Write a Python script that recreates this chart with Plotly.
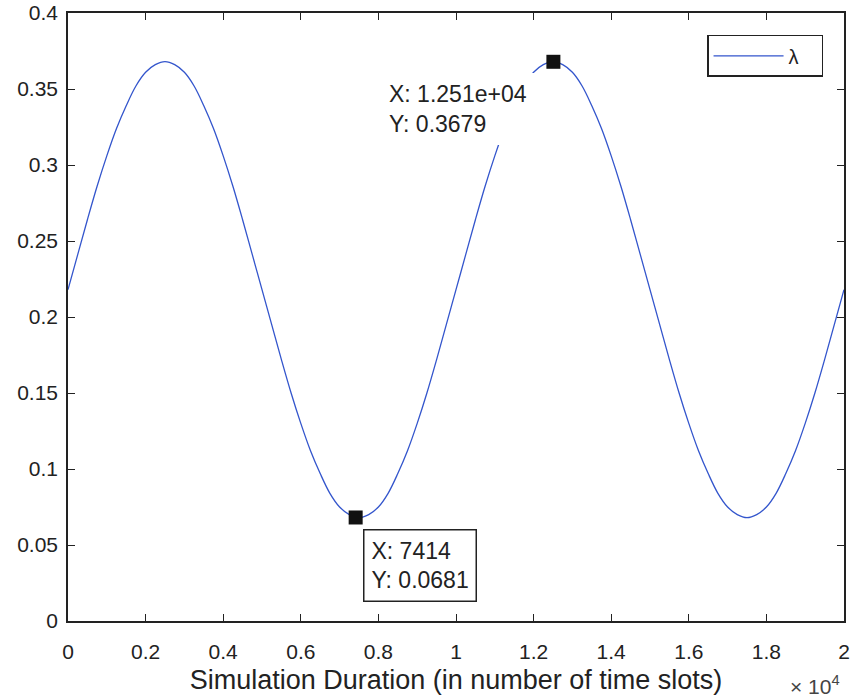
import plotly.graph_objects as go

# Values every 250 time slots
t_slots = [i * 250 for i in range(81)]
lam = [0.218, 0.241, 0.264, 0.286, 0.306, 0.324, 0.339, 0.352, 0.361, 0.366,
       0.368, 0.366, 0.361, 0.352, 0.339, 0.324, 0.306, 0.286, 0.264, 0.241,
       0.218, 0.195, 0.172, 0.150, 0.130, 0.112, 0.097, 0.084, 0.075, 0.070,
       0.068, 0.070, 0.075, 0.084, 0.097, 0.112, 0.130, 0.150, 0.172, 0.195,
       0.218, 0.241, 0.264, 0.286, 0.306, 0.324, 0.339, 0.352, 0.361, 0.366,
       0.368, 0.366, 0.361, 0.352, 0.339, 0.324, 0.306, 0.286, 0.264, 0.241,
       0.218, 0.195, 0.172, 0.150, 0.130, 0.112, 0.097, 0.084, 0.075, 0.070,
       0.068, 0.070, 0.075, 0.084, 0.097, 0.112, 0.130, 0.150, 0.172, 0.195,
       0.218]

tip_x = [7414, 12510]
tip_y = [0.0681, 0.3679]
tip_text = ["X: 7414<br>Y: 0.0681", "X: 1.251e+04<br>Y: 0.3679"]

x_tickvals = [0, 2000, 4000, 6000, 8000, 10000, 12000, 14000, 16000, 18000, 20000]
x_ticktext = ["0", "0.2", "0.4", "0.6", "0.8", "1", "1.2", "1.4", "1.6", "1.8", "2"]
y_tickvals = [0, 0.05, 0.1, 0.15, 0.2, 0.25, 0.3, 0.35, 0.4]
y_ticktext = ["0", "0.05", "0.1", "0.15", "0.2", "0.25", "0.3", "0.35", "0.4"]

FONT = "Liberation Sans, Arial, sans-serif"
INK = "#222222"

fig = go.Figure()
fig.add_trace(go.Scatter(x=t_slots, y=lam, mode="lines", name="λ",
                         line=dict(color="#3355cc", width=1.3, shape="spline")))
fig.add_trace(go.Scatter(x=tip_x, y=tip_y, mode="markers", showlegend=False,
                         marker=dict(symbol="square", size=14, color="#111111")))

# data tips
fig.add_annotation(x=tip_x[0], y=tip_y[0], xref="x", yref="y", text=tip_text[0],
                   showarrow=False, xanchor="left", yanchor="top", xshift=7, yshift=-12,
                   align="left", bgcolor="white", bordercolor=INK, borderwidth=1.5,
                   borderpad=7, font=dict(family=FONT, size=23, color=INK))
fig.add_annotation(x=tip_x[1], y=tip_y[1], xref="x", yref="y", text=tip_text[1],
                   showarrow=False, xanchor="right", yanchor="top", xshift=-18, yshift=-11,
                   align="left", bgcolor="white", borderwidth=0,
                   borderpad=8, font=dict(family=FONT, size=23, color=INK))

fig.add_annotation(x=1.0, y=0, xref="paper", yref="paper", text="× 10<sup>4</sup>",
                   showarrow=False, xanchor="right", yanchor="middle", yshift=-64, xshift=-2,
                   font=dict(family=FONT, size=21, color="#444444"))

fig.update_layout(
    width=850, height=698,
    margin=dict(l=68, r=6, t=13, b=77),
    paper_bgcolor="white", plot_bgcolor="white",
    font=dict(family=FONT, size=20, color=INK),
    showlegend=True,
    legend=dict(x=0.973, y=0.964, xanchor="right", yanchor="top",
                orientation="h", entrywidth=28, entrywidthmode="pixels",
                bordercolor=INK, borderwidth=1.5, bgcolor="white",
                font=dict(family=FONT, size=20), itemwidth=70,
                tracegroupgap=0),
)
fig.update_xaxes(range=[0, 20000], tickvals=x_tickvals, ticktext=x_ticktext,
                 showgrid=False, zeroline=False, showline=True, linecolor=INK,
                 linewidth=1.5, mirror="ticks", ticks="inside", ticklen=7,
                 tickcolor=INK, tickfont=dict(size=21), ticklabelstandoff=11,
                 automargin=False,
                 title=dict(text="Simulation Duration (in number of time slots)",
                            font=dict(size=27), standoff=8))
fig.update_yaxes(range=[0, 0.4], tickvals=y_tickvals, ticktext=y_ticktext,
                 showgrid=False, zeroline=False, showline=True, linecolor=INK,
                 linewidth=1.5, mirror="ticks", ticks="inside", ticklen=7,
                 tickcolor=INK, tickfont=dict(size=21), ticklabelstandoff=4,
                 automargin=False)

fig.write_html("out.html")
